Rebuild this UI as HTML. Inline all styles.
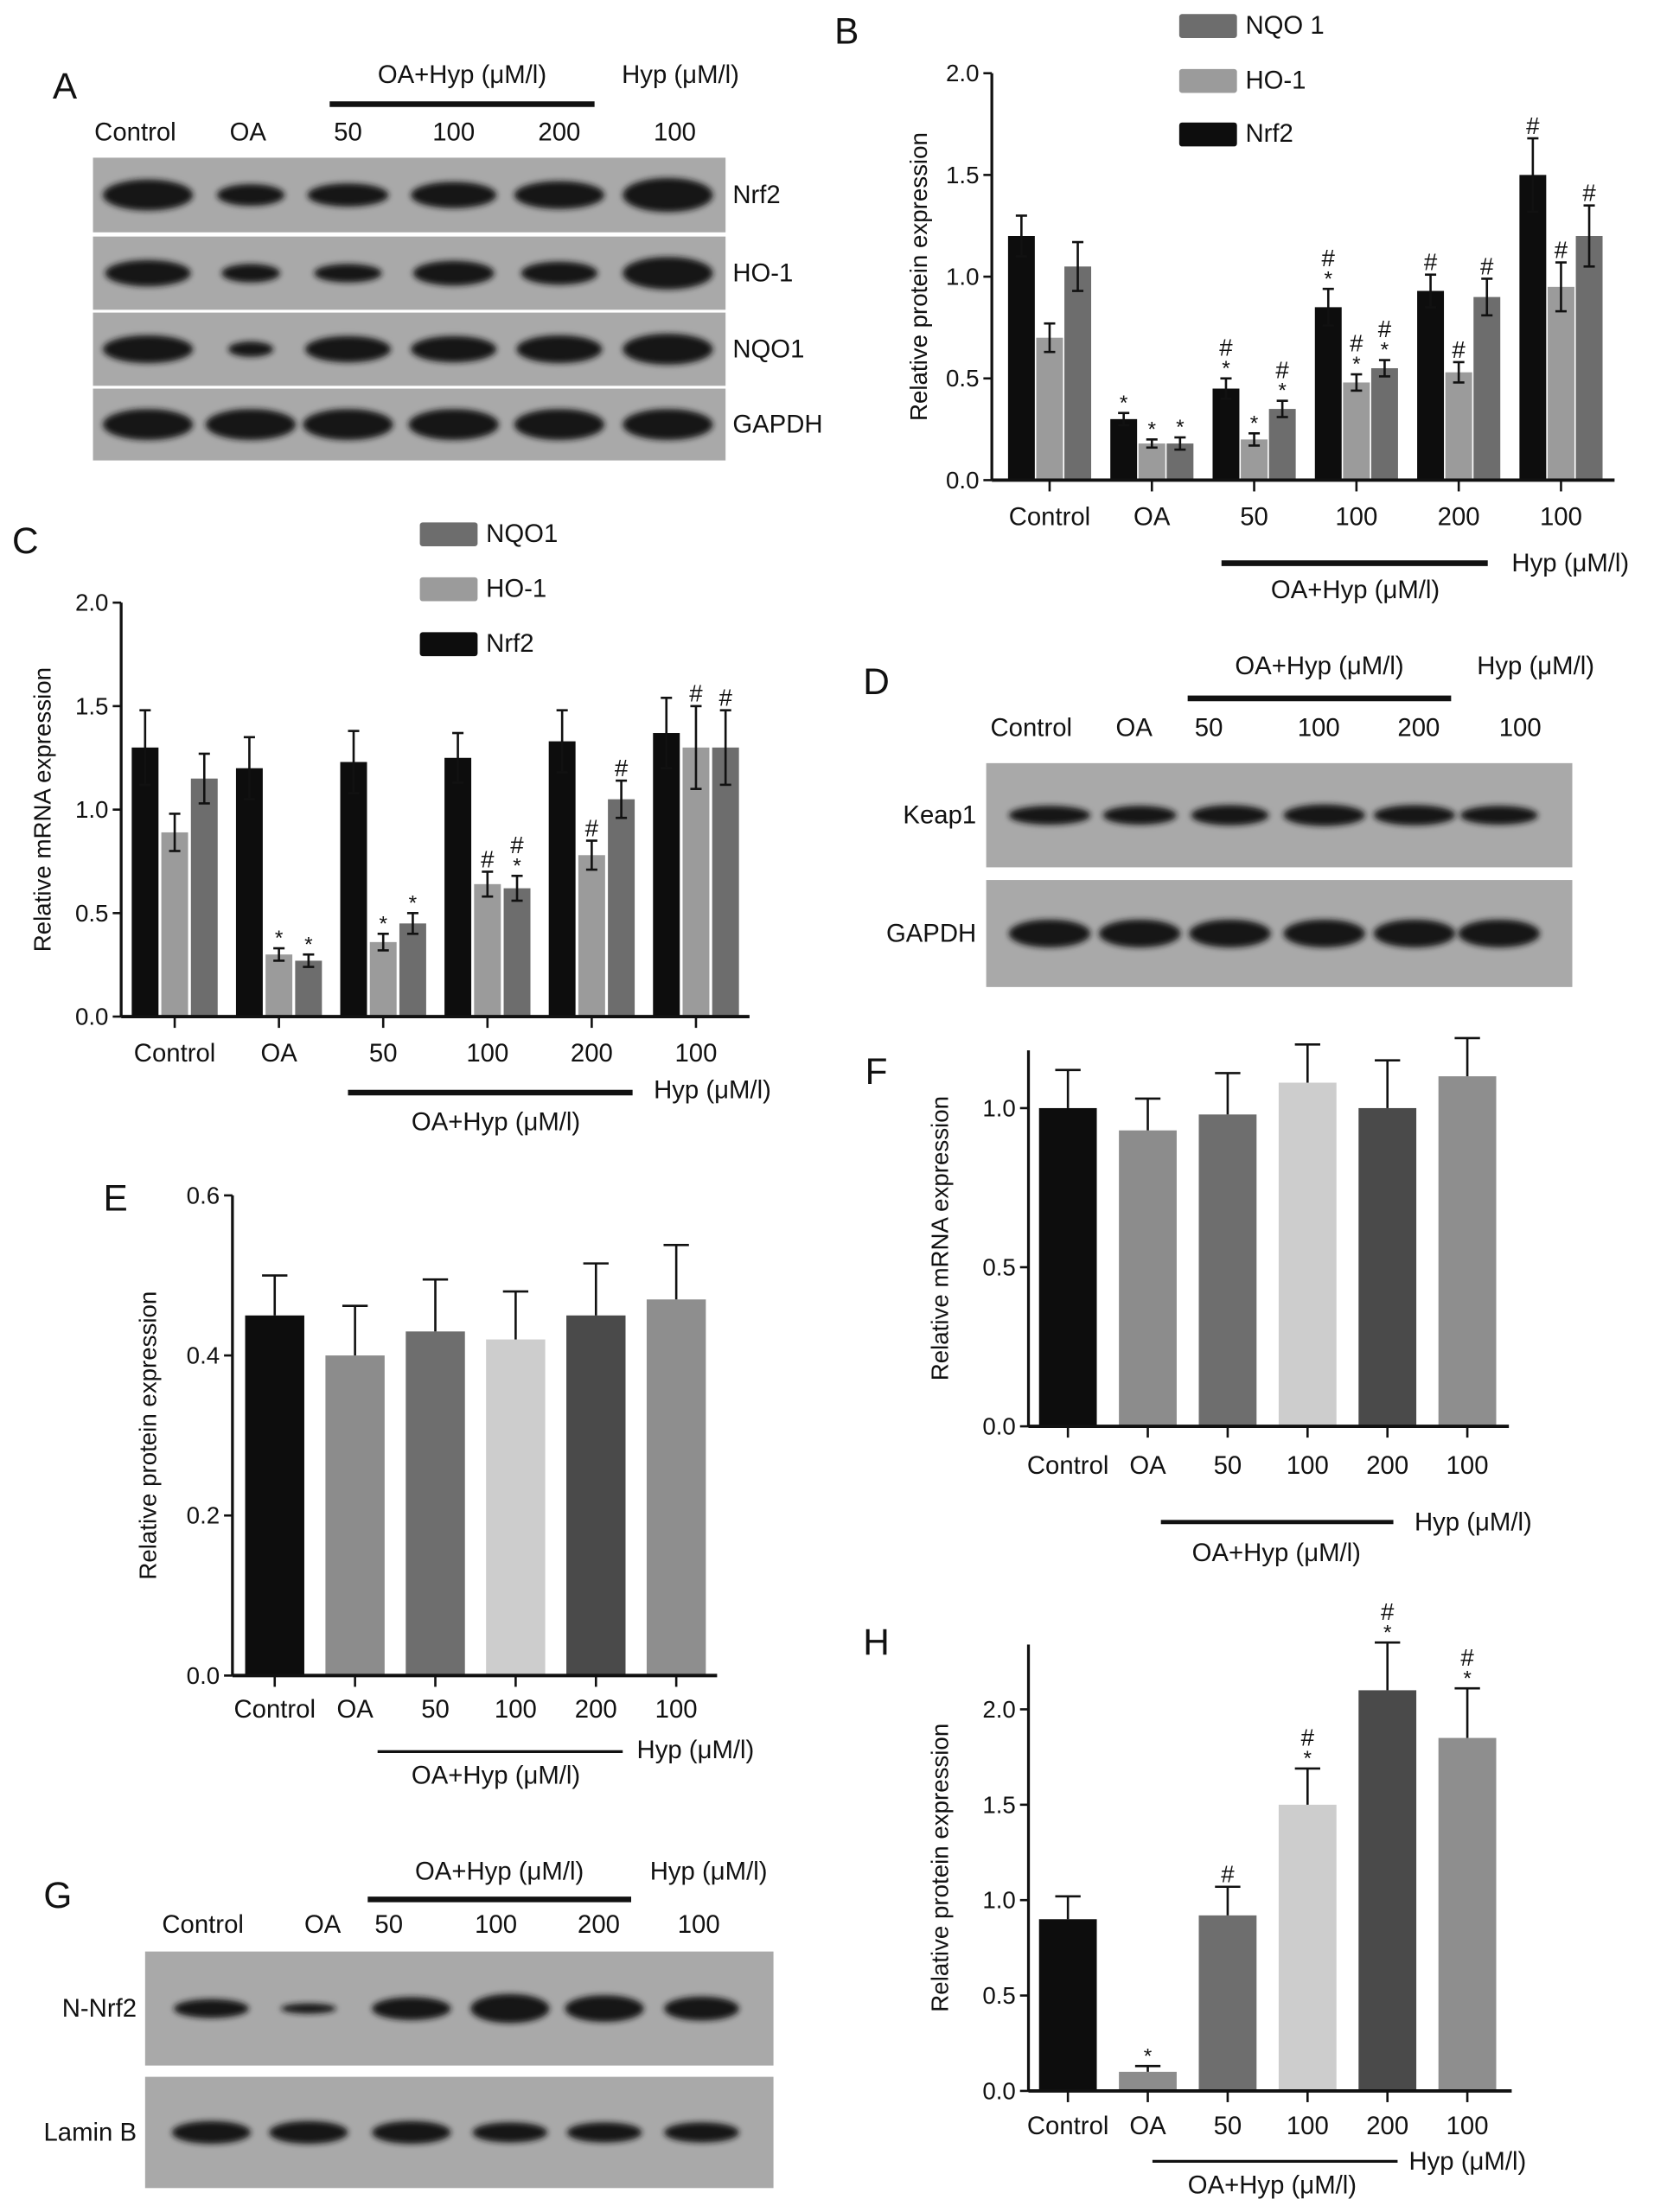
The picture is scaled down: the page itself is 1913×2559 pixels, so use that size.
<!DOCTYPE html>
<html><head><meta charset="utf-8"><style>
html,body{margin:0;padding:0;background:#fff;}
svg{display:block;font-family:"Liberation Sans",sans-serif;}
</style></head><body>
<svg id="fig" width="1913" height="2559" viewBox="0 0 1174 1571" preserveAspectRatio="none" xmlns="http://www.w3.org/2000/svg">
<defs><filter id="blur" x="-20%" y="-50%" width="140%" height="200%"><feGaussianBlur stdDeviation="2.2"/></filter></defs>
</svg>
<script>
// ---------- data ----------
const catsGrouped=['Control','OA','50','100','200','100'];
const B_nrf2=[1.2,0.3,0.45,0.85,0.93,1.5];
const B_nrf2Err=[0.1,0.03,0.05,0.09,0.08,0.18];
const B_ho1=[0.7,0.18,0.2,0.48,0.53,0.95];
const B_ho1Err=[0.07,0.02,0.03,0.04,0.05,0.12];
const B_nqo1=[1.05,0.18,0.35,0.55,0.9,1.2];
const B_nqo1Err=[0.12,0.03,0.04,0.04,0.09,0.15];
const B_nrf2Mark=['','*','#*','#*','#','#'];
const B_ho1Mark=['','*','*','#*','#','#'];
const B_nqo1Mark=['','*','#*','#*','#','#'];
const C_nrf2=[1.3,1.2,1.23,1.25,1.33,1.37];
const C_nrf2Err=[0.18,0.15,0.15,0.12,0.15,0.17];
const C_ho1=[0.89,0.3,0.36,0.64,0.78,1.3];
const C_ho1Err=[0.09,0.03,0.04,0.06,0.07,0.2];
const C_nqo1=[1.15,0.27,0.45,0.62,1.05,1.3];
const C_nqo1Err=[0.12,0.03,0.05,0.06,0.09,0.18];
const C_nrf2Mark=['','','','','',''];
const C_ho1Mark=['','*','*','#','#','#'];
const C_nqo1Mark=['','*','*','#*','#','#'];
const ticks2=[0,0.5,1.0,1.5,2.0];
const tickLabels2=['0.0','0.5','1.0','1.5','2.0'];
const E_vals=[0.45,0.40,0.43,0.42,0.45,0.47];
const E_err=[0.05,0.062,0.065,0.06,0.065,0.068];
const E_ticks=[0,0.2,0.4,0.6];
const E_tickLabels=['0.0','0.2','0.4','0.6'];
const F_vals=[1.0,0.93,0.98,1.08,1.0,1.1];
const F_err=[0.12,0.1,0.13,0.12,0.15,0.12];
const F_ticks=[0,0.5,1.0];
const F_tickLabels=['0.0','0.5','1.0'];
const H_vals=[0.9,0.1,0.92,1.5,2.1,1.85];
const H_err=[0.12,0.03,0.15,0.19,0.25,0.26];
const H_marks=['','*','#','#*','#*','#*'];
const singleColors=['#0d0d0d','#8c8c8c','#6e6e6e','#cdcdcd','#4a4a4a','#8e8e8e'];

const NS='http://www.w3.org/2000/svg';
const svg=document.getElementById('fig');
function el(tag,attrs,parent){const e=document.createElementNS(NS,tag);for(const k in attrs)e.setAttribute(k,attrs[k]);(parent||svg).appendChild(e);return e;}
function txt(s,x,y,size,anchor,name,parent,extra){
  const t=el('text',Object.assign({x:x,y:y,'font-size':size,'text-anchor':anchor||'middle','dominant-baseline':'central',fill:'#111'},extra||{}),parent);
  t.textContent=s;
  
  
  return t;
}
function line(x1,y1,x2,y2,w,name,parent){
  const l=el('line',{x1:x1,y1:y1,x2:x2,y2:y2,stroke:'#111','stroke-width':w||1.6},parent);
  
  
  return l;
}
function panelLetter(s,x,y){txt(s,x,y,26,'middle','panel-label-'+s.toLowerCase());}

function yAxis(g,ax,y0,yOfV,ticks,labels,top,title,titleX){
  line(ax,top,ax,y0,2,'y-axis-line',g);
  ticks.forEach((v,i)=>{const y=yOfV(v);line(ax-6,y,ax,y,1.6,'y-tick',g);txt(labels[i],ax-9,y,17,'end','y-tick-label',g);});
  const t=txt(title,titleX,(top+y0)/2,17,'middle','y-axis-title',g);
  t.setAttribute('transform','rotate(-90 '+titleX+' '+((top+y0)/2)+')');
}
function xAxis(g,ax,end,y0,centers,cats,labY){
  line(ax,y0,end,y0,2.4,'x-axis-line',g);
  centers.forEach((c,i)=>{line(c,y0,c,y0+8,1.6,'x-tick',g);txt(cats[i],c,labY,18,'middle','x-tick-label',g);});
}
function treatment(g,x1,x2,ly,hypX,hypY,oaX,oaY,w){
  line(x1,ly,x2,ly,w||4,'treatment-bar',g);
  txt('Hyp (\u03bcM/l)',hypX,hypY,18,'start','hyp-label',g);
  txt('OA+Hyp (\u03bcM/l)',oaX,oaY,18,'middle','oa-hyp-label',g);
}
function marks(g,x,yTop,m){
  let y=yTop-9;
  if(m.indexOf('*')>=0){txt('*',x,y+2,15,'middle','significance-star',g);y-=13;}
  if(m.indexOf('#')>=0){txt('#',x,y,17,'middle','significance-hash',g);}
}
function errBar(g,x,v,e,yOfV,both,cap){
  const yt=yOfV(v+e),yb=both?yOfV(v-e):yOfV(v);
  line(x,yt,x,yb,1.6,'error-bar',g);
  line(x-cap,yt,x+cap,yt,1.6,'error-cap',g);
  if(both)line(x-cap,yb,x+cap,yb,1.6,'error-cap',g);
}

// ---------- grouped charts ----------
function grouped(cfg){
  const g=el('g',{});
  
  
  const yOfV=v=>cfg.y0-v/2*(cfg.y0-cfg.yTop);
  const centers=cfg.cats.map((c,i)=>cfg.start+i*cfg.step);
  const series=[
    {vals:cfg.nrf2,err:cfg.nrf2Err,mk:cfg.nrf2Mark,col:'#0d0d0d',off:cfg.off[0],n:'nrf2'},
    {vals:cfg.ho1,err:cfg.ho1Err,mk:cfg.ho1Mark,col:'#9b9b9b',off:cfg.off[1],n:'ho1'},
    {vals:cfg.nqo1,err:cfg.nqo1Err,mk:cfg.nqo1Mark,col:'#6d6d6d',off:cfg.off[2],n:'nqo1'}];
  series.forEach(s=>{
    s.vals.forEach((v,i)=>{
      const x=centers[i]+s.off;
      const r=el('rect',{x:x-cfg.bw/2,y:yOfV(v),width:cfg.bw,height:cfg.y0-yOfV(v),fill:s.col},g);
      
      
      errBar(g,x,v,s.err[i],yOfV,true,4);
      marks(g,x,yOfV(v+s.err[i]),s.mk[i]);
    });
  });
  yAxis(g,cfg.ax,cfg.y0,yOfV,ticks2,tickLabels2,cfg.yTop,cfg.title,cfg.titleX);
  xAxis(g,cfg.ax,cfg.end,cfg.y0,centers,cfg.cats,cfg.labY);
  // legend
  const leg=[['#6d6d6d',cfg.legNames[0]],['#9b9b9b','HO-1'],['#0d0d0d','Nrf2']];
  leg.forEach((l,i)=>{
    const y=cfg.legY[i];
    const r=el('rect',{x:cfg.legX,y:y-8,width:41,height:17,fill:l[0],rx:2},g);
    
    
    txt(l[1],cfg.legX+47,y,18,'start','legend-entry',g);
  });
}
grouped({name:'chart-b',cats:catsGrouped,nrf2:B_nrf2,nrf2Err:B_nrf2Err,ho1:B_ho1,ho1Err:B_ho1Err,nqo1:B_nqo1,nqo1Err:B_nqo1Err,
  nrf2Mark:B_nrf2Mark,ho1Mark:B_ho1Mark,nqo1Mark:B_nqo1Mark,ax:704,end:1146,y0:341,yTop:52,start:745,step:72.6,off:[-20,0,20],bw:19,
  title:'Relative protein expression',titleX:652,labY:367,legX:837,legY:[18,57,95],legNames:['NQO 1']});
grouped({name:'chart-c',cats:catsGrouped,nrf2:C_nrf2,nrf2Err:C_nrf2Err,ho1:C_ho1,ho1Err:C_ho1Err,nqo1:C_nqo1,nqo1Err:C_nqo1Err,
  nrf2Mark:C_nrf2Mark,ho1Mark:C_ho1Mark,nqo1Mark:C_nqo1Mark,ax:86,end:532,y0:722,yTop:428,start:124,step:74,off:[-21,0,21],bw:19,
  title:'Relative mRNA expression',titleX:30,labY:748,legX:298,legY:[379,418,457],legNames:['NQO1']});
treatment(svg,867,1056,400,1073,400,962,419,4);
treatment(svg,247,449,776,464,774,352,797,4);

// ---------- single charts ----------
function single(cfg){
  const g=el('g',{});
  
  
  const yOfV=v=>cfg.y0-v/cfg.refV*(cfg.y0-cfg.refY);
  const centers=catsGrouped.map((c,i)=>cfg.start+i*cfg.step);
  cfg.vals.forEach((v,i)=>{
    const x=centers[i];
    const r=el('rect',{x:x-cfg.bw/2,y:yOfV(v),width:cfg.bw,height:cfg.y0-yOfV(v),fill:singleColors[i]},g);
    
    
    errBar(g,x,v,cfg.err[i],yOfV,false,9);
    if(cfg.marks)marks(g,x,yOfV(v+cfg.err[i]),cfg.marks[i]);
  });
  yAxis(g,cfg.ax,cfg.y0,yOfV,cfg.ticks,cfg.tickLabels,cfg.top,cfg.title,cfg.titleX);
  xAxis(g,cfg.ax,cfg.end,cfg.y0,centers,catsGrouped,cfg.labY);
}
single({name:'chart-e',vals:E_vals,err:E_err,ax:165,end:509,y0:1190,refV:0.6,refY:849,top:849,start:195,step:57,bw:42,
  ticks:E_ticks,tickLabels:E_tickLabels,title:'Relative protein expression',titleX:105,labY:1214});
single({name:'chart-f',vals:F_vals,err:F_err,ax:730,end:1071,y0:1013,refV:1.0,refY:787,top:746,start:758,step:56.7,bw:41,
  ticks:F_ticks,tickLabels:F_tickLabels,title:'Relative mRNA expression',titleX:667,labY:1041});
single({name:'chart-h',vals:H_vals,err:H_err,marks:H_marks,ax:730,end:1073,y0:1485,refV:2.0,refY:1214,top:1168,start:758,step:56.7,bw:41,
  ticks:ticks2,tickLabels:tickLabels2,title:'Relative protein expression',titleX:667,labY:1510});
treatment(svg,268,442,1244,452,1243,352,1261,2);
treatment(svg,824,989,1081,1004,1081,906,1103,3);
treatment(svg,818,992,1535,1000,1535,903,1552,2);

// ---------- blots ----------
const A_rows=['Nrf2','HO-1','NQO1','GAPDH'];
const A_bandW=[[1.0,0.75,0.9,0.95,1.0,1.0],[0.95,0.65,0.75,0.9,0.85,1.0],[1.0,0.5,0.95,0.95,0.95,1.0],[1.0,1.0,1.0,1.0,1.0,1.0]];
const A_bandH=[[1.0,0.7,0.75,0.85,0.9,1.1],[0.85,0.6,0.6,0.8,0.75,1.05],[0.9,0.5,0.85,0.85,0.9,1.0],[1.0,1.0,1.0,1.0,1.0,1.0]];
const D_rows=['Keap1','GAPDH'];
const D_bandW=[[1,0.9,0.95,1,1,0.95],[1,1,1,1,1,1]];
const D_bandH=[[0.75,0.75,0.8,0.85,0.8,0.75],[1.1,1.1,1.1,1.1,1.1,1.1]];
const G_rows=['N-Nrf2','Lamin B'];
const G_bandW=[[0.95,0.7,1,1,1,0.95],[1,1,1,0.95,0.95,0.95]];
const G_bandH=[[0.75,0.4,0.9,1.15,1.05,0.95],[0.9,0.9,0.9,0.8,0.8,0.8]];

function blot(cfg){
  const g=el('g',{});
  
  
  cfg.rowsY.forEach((ry,r)=>{
    const bg=el('rect',{x:cfg.x,y:ry[0],width:cfg.w,height:ry[1]-ry[0],fill:'#a9a9a9'},g);
    
    
    const cy=(ry[0]+ry[1])/2;
    cfg.bandX.forEach((bx,i)=>{
      const b=el('ellipse',{cx:bx,cy:cy,rx:cfg.bw/2*cfg.bandW[r][i],ry:cfg.bh/2*cfg.bandH[r][i],fill:'#141414',filter:'url(#blur)'},g);
      
      
    });
    txt(cfg.rows[r],cfg.labX,cy,18,cfg.labAnchor,'row-label',g);
  });
  cfg.colX.forEach((cx,i)=>txt(catsGrouped[i],cx,cfg.colY,18,'middle','lane-label',g));
  line(cfg.lx1,cfg.ly,cfg.lx2,cfg.ly,4,'treatment-bar',g);
  txt('OA+Hyp (\u03bcM/l)',(cfg.lx1+cfg.lx2)/2,cfg.ty,18,'middle','oa-hyp-label',g);
  txt('Hyp (\u03bcM/l)',cfg.hypX,cfg.ty,18,'middle','hyp-label',g);
}
blot({name:'blot-a',x:66,w:449,rowsY:[[112,165],[168,220],[222,274],[276,327]],rows:A_rows,bandX:[105,178,247,322,397,474],bw:64,bh:22,
  bandW:A_bandW,bandH:A_bandH,labX:520,labAnchor:'start',colX:[96,176,247,322,397,479],colY:94,lx1:234,lx2:422,ly:74,ty:53,hypX:483});
blot({name:'blot-d',x:700,w:416,rowsY:[[542,616],[625,701]],rows:D_rows,bandX:[745,809,873,940,1004,1064],bw:58,bh:18,
  bandW:D_bandW,bandH:D_bandH,labX:693,labAnchor:'end',colX:[732,805,858,936,1007,1079],colY:517,lx1:843,lx2:1030,ly:496,ty:473,hypX:1090});
blot({name:'blot-g',x:103,w:446,rowsY:[[1386,1467],[1475,1554]],rows:G_rows,bandX:[150,219,292,362,429,498],bw:56,bh:18,
  bandW:G_bandW,bandH:G_bandH,labX:97,labAnchor:'end',colX:[144,229,276,352,425,496],colY:1367,lx1:261,lx2:448,ly:1349,ty:1329,hypX:503});
// white separators for A already by gaps
panelLetter('A',46,61);panelLetter('B',601,22);panelLetter('C',18,384);panelLetter('D',622,484);
panelLetter('E',82,851);panelLetter('F',622,761);panelLetter('G',41,1346);panelLetter('H',622,1166);
</script>
</body></html>
